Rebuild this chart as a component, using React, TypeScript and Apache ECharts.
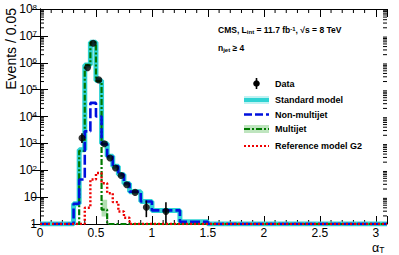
import React, { useEffect, useRef } from 'react';
import * as echarts from 'echarts';

// Histogram bin edges (alpha_T)
const binEdges = [0, 0.3, 0.35, 0.4, 0.45, 0.5, 0.55, 0.6, 0.65, 0.7, 0.75, 0.8, 0.9, 1.0, 1.25, 1.5, 3.1];
// Bin contents
const standardModel = [1, 5.7, 580, 8.3e5, 5.8e6, 2.2e5, 1000, 330, 140, 70, 32, 16, 6.9, 3.2, 1.2, 1];
const nonMultijet = [1, 5.7, 45, 2800, 3.2e4, 1.0e4, 950, 330, 140, 70, 32, 16, 6.9, 3.2, 1.2, 1];
const multijet = [1, 1, 530, 8.3e5, 5.8e6, 2.1e5, 3.4, 1, 1, 1, 1, 1, 1, 1, 1, 1];
const referenceG2 = [1, 1, 1, 4, 45, 79, 33, 14, 6.5, 2.9, 1.7, 1, 1, 1, 1, 1];
// Multijet uncertainty band: [xLow, xHigh, yLow, yHigh]
const multijetBand = [[0.55, 0.6, 1.9, 8]];
// Data points
const dataX = [0.375, 0.425, 0.475, 0.525, 0.575, 0.625, 0.675, 0.725, 0.775, 0.85, 0.95, 1.125];
const dataY = [1580, 6.6e5, 5.3e6, 2.3e5, 970, 285, 121, 64, 29, 15, 4.2, 2.95];
const dataErrLow = [1030, 6.6e5, 5.3e6, 2.3e5, 970, 285, 121, 64, 29, 15, 1.8, 1.1];
const dataErrHigh = [2400, 6.6e5, 5.3e6, 2.3e5, 970, 285, 121, 64, 29, 15, 7.5, 6.5];
// Axes
const xMin = 0;
const xMax = 3.1;
const xMajor = 0.5;
const xMinorStep = 0.1;
const yMin = 1;
const yMax = 1e8;

const FONT = "'Liberation Sans', Arial, Helvetica, sans-serif";
const CYAN = '#2fd3d3';
const BLUE = '#0010dd';
const GREEN = '#007a00';
const RED = '#ee0000';

function stepData(vals: number[]) {
  const pts: number[][] = vals.map((v, i) => [binEdges[i], v]);
  pts.push([binEdges[binEdges.length - 1], vals[vals.length - 1]]);
  return pts;
}

export default function App() {
  const ref = useRef<HTMLDivElement>(null);
  useEffect(() => {
    if (!ref.current) return;
    const chart = echarts.init(ref.current, undefined, { renderer: 'svg' });

    const yMinor: number[][] = [];
    for (let e = Math.log10(yMin); e < Math.log10(yMax); e++) {
      for (let m = 2; m <= 9; m++) yMinor.push([0, m * Math.pow(10, e)]);
    }
    const xMinor: number[][] = [];
    for (let k = 1; k * xMinorStep < xMax - 1e-9; k++) {
      const v = Math.round(k * xMinorStep * 10) / 10;
      if (Math.abs(v / xMajor - Math.round(v / xMajor)) > 1e-6) xMinor.push([v, 1]);
    }

    const lineBase = {
      type: 'line',
      step: 'end',
      symbol: 'none',
      clip: true,
      silent: true,
    };

    const option: any = {
      animation: false,
      grid: { left: 40, right: 12, top: 9, bottom: 31 },
      xAxis: [
        {
          type: 'value',
          min: xMin,
          max: xMax,
          interval: xMajor,
          axisLine: { lineStyle: { color: '#000', width: 1 } },
          axisTick: { inside: true, length: 8, lineStyle: { color: '#000' } },
          splitLine: { show: false },
          axisLabel: {
            color: '#000',
            fontFamily: FONT,
            fontSize: 12,
            margin: 3,
            formatter: (v: number) => (Math.abs(v / xMajor - Math.round(v / xMajor)) < 1e-6 ? String(v) : ''),
          },
        },
        {
          type: 'value',
          position: 'top',
          min: xMin,
          max: xMax,
          interval: xMajor,
          axisLine: { lineStyle: { color: '#000', width: 1 } },
          axisTick: { inside: true, length: 8, lineStyle: { color: '#000' } },
          splitLine: { show: false },
          axisLabel: { show: false },
        },
      ],
      yAxis: [
        {
          type: 'log',
          min: yMin,
          max: yMax,
          logBase: 10,
          axisLine: { show: true, lineStyle: { color: '#000', width: 1 } },
          axisTick: { inside: true, length: 8, lineStyle: { color: '#000' } },
          splitLine: { show: false },
          axisLabel: {
            color: '#000',
            fontFamily: FONT,
            fontSize: 12,
            margin: 3,
            formatter: (v: number) => {
              const e = Math.round(Math.log10(v));
              if (e === 0) return '1';
              if (e === 1) return '10';
              return '10{s|' + e + '}';
            },
            rich: { s: { fontSize: 8, verticalAlign: 'top', fontFamily: FONT, color: '#000' } },
          },
        },
        {
          type: 'log',
          position: 'right',
          min: yMin,
          max: yMax,
          logBase: 10,
          axisLine: { show: true, lineStyle: { color: '#000', width: 1 } },
          axisTick: { inside: true, length: 8, lineStyle: { color: '#000' } },
          splitLine: { show: false },
          axisLabel: { show: false },
        },
      ],
      series: [
        {
          type: 'custom',
          silent: true,
          data: yMinor,
          renderItem: (params: any, api: any) => {
            const cs = params.coordSys;
            const y = api.coord([0, api.value(1)])[1];
            return {
              type: 'group',
              children: [
                { type: 'line', shape: { x1: cs.x, y1: y, x2: cs.x + 4, y2: y }, style: { stroke: '#000', lineWidth: 1 } },
                { type: 'line', shape: { x1: cs.x + cs.width, y1: y, x2: cs.x + cs.width - 4, y2: y }, style: { stroke: '#000', lineWidth: 1 } },
              ],
            };
          },
        },
        {
          type: 'custom',
          silent: true,
          data: xMinor,
          renderItem: (params: any, api: any) => {
            const cs = params.coordSys;
            const x = api.coord([api.value(0), 1])[0];
            return {
              type: 'group',
              children: [
                { type: 'line', shape: { x1: x, y1: cs.y + cs.height, x2: x, y2: cs.y + cs.height - 4 }, style: { stroke: '#000', lineWidth: 1 } },
                { type: 'line', shape: { x1: x, y1: cs.y, x2: x, y2: cs.y + 4 }, style: { stroke: '#000', lineWidth: 1 } },
              ],
            };
          },
        },
        {
          type: 'custom',
          silent: true,
          data: multijetBand,
          renderItem: (params: any, api: any) => {
            const p0 = api.coord([api.value(0), api.value(3)]);
            const p1 = api.coord([api.value(1), api.value(2)]);
            return {
              type: 'rect',
              shape: { x: p0[0], y: p0[1], width: p1[0] - p0[0], height: p1[1] - p0[1] },
              style: { fill: 'rgba(0,150,0,0.3)' },
            };
          },
        },
        { ...lineBase, name: 'Standard model', data: stepData(standardModel), lineStyle: { color: CYAN, width: 5 }, z: 2 },
        { ...lineBase, name: 'Multijet', data: stepData(multijet), lineStyle: { color: GREEN, width: 2.2, type: [6, 2, 2, 2] }, z: 3 },
        { ...lineBase, name: 'Non-multijet', data: stepData(nonMultijet), lineStyle: { color: BLUE, width: 2.6, type: [10, 3] }, z: 4 },
        { ...lineBase, name: 'Reference model G2', data: stepData(referenceG2), lineStyle: { color: RED, width: 2.4, type: [2, 2] }, z: 5 },
        {
          type: 'custom',
          silent: true,
          z: 6,
          data: dataX.map((x, i) => [x, dataY[i], dataErrLow[i], dataErrHigh[i]]),
          renderItem: (params: any, api: any) => {
            const a = api.coord([api.value(0), api.value(2)]);
            const b = api.coord([api.value(0), api.value(3)]);
            return { type: 'line', shape: { x1: a[0], y1: a[1], x2: b[0], y2: b[1] }, style: { stroke: '#000', lineWidth: 1.6 } };
          },
        },
        {
          type: 'scatter',
          name: 'Data',
          silent: true,
          z: 7,
          symbol: 'circle',
          symbolSize: 7,
          itemStyle: { color: '#000' },
          data: dataX.map((x, i) => [x, dataY[i]]),
        },
      ],
      graphic: [
        {
          type: 'text',
          x: 11,
          y: 8,
          rotation: Math.PI / 2,
          style: { text: 'Events / 0.05', fontFamily: FONT, fontSize: 14, fill: '#000', align: 'right', verticalAlign: 'middle' },
        },
        {
          type: 'text',
          x: 372,
          y: 241,
          style: {
            text: 'α{s|T}',
            fontFamily: FONT,
            fontSize: 12.5,
            fill: '#000',
            rich: { s: { fontSize: 8.5, verticalAlign: 'bottom', fontFamily: FONT, fill: '#000' } },
          },
        },
        {
          type: 'text',
          x: 218,
          y: 30,
          style: {
            text: 'CMS, L{sub|int} = 11.7 fb{sup|-1}, √s = 8 TeV',
            fontFamily: FONT,
            fontSize: 8.5,
            fontWeight: 'bold',
            fill: '#000',
            verticalAlign: 'middle',
            rich: {
              sub: { fontSize: 6, fontWeight: 'bold', verticalAlign: 'bottom', fontFamily: FONT },
              sup: { fontSize: 6, fontWeight: 'bold', verticalAlign: 'top', fontFamily: FONT },
            },
          },
        },
        {
          type: 'text',
          x: 218,
          y: 48,
          style: {
            text: 'n{sub|jet} ≥ 4',
            fontFamily: FONT,
            fontSize: 8.5,
            fontWeight: 'bold',
            fill: '#000',
            verticalAlign: 'middle',
            rich: { sub: { fontSize: 6, fontWeight: 'bold', verticalAlign: 'bottom', fontFamily: FONT } },
          },
        },
        // Legend
        { type: 'line', shape: { x1: 256.5, y1: 78, x2: 256.5, y2: 89 }, style: { stroke: '#000', lineWidth: 1.6 } },
        { type: 'circle', shape: { cx: 256.5, cy: 83.5, r: 3.3 }, style: { fill: '#000' } },
        { type: 'text', x: 275, y: 83.5, style: { text: 'Data', fontFamily: FONT, fontSize: 9, fontWeight: 'bold', fill: '#000', verticalAlign: 'middle' } },
        { type: 'rect', shape: { x: 244, y: 96, width: 25, height: 8 }, style: { fill: 'rgba(47,211,211,0.3)' } },
        { type: 'line', shape: { x1: 244, y1: 100, x2: 269, y2: 100 }, style: { stroke: CYAN, lineWidth: 4 } },
        { type: 'text', x: 275, y: 100, style: { text: 'Standard model', fontFamily: FONT, fontSize: 9, fontWeight: 'bold', fill: '#000', verticalAlign: 'middle' } },
        { type: 'line', shape: { x1: 244, y1: 114.5, x2: 269, y2: 114.5 }, style: { stroke: BLUE, lineWidth: 2.4, lineDash: [8, 3] } },
        { type: 'text', x: 275, y: 114.5, style: { text: 'Non-multijet', fontFamily: FONT, fontSize: 9, fontWeight: 'bold', fill: '#000', verticalAlign: 'middle' } },
        { type: 'rect', shape: { x: 244, y: 125, width: 25, height: 8 }, style: { fill: 'rgba(0,150,0,0.25)' } },
        { type: 'line', shape: { x1: 244, y1: 129, x2: 269, y2: 129 }, style: { stroke: GREEN, lineWidth: 2.2, lineDash: [6, 2, 2, 2] } },
        { type: 'text', x: 275, y: 129, style: { text: 'Multijet', fontFamily: FONT, fontSize: 9, fontWeight: 'bold', fill: '#000', verticalAlign: 'middle' } },
        { type: 'line', shape: { x1: 244, y1: 146, x2: 269, y2: 146 }, style: { stroke: RED, lineWidth: 2.2, lineDash: [2, 2] } },
        { type: 'text', x: 275, y: 146, style: { text: 'Reference model G2', fontFamily: FONT, fontSize: 9, fontWeight: 'bold', fill: '#000', verticalAlign: 'middle' } },
      ],
    };
    chart.setOption(option);
    return () => chart.dispose();
  }, []);
  return <div ref={ref} style={{ position: 'absolute', left: 0, top: 0, width: 399, height: 255, background: '#fff' }} />;
}
